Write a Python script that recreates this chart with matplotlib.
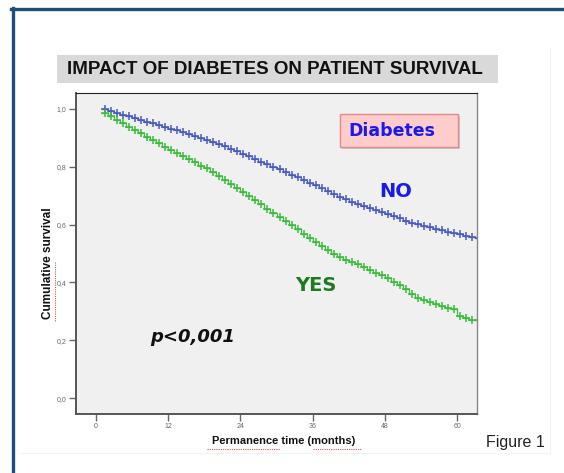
import matplotlib
matplotlib.use("Agg")
import matplotlib.pyplot as plt
import numpy as np
from matplotlib.patches import Rectangle, FancyBboxPatch
from matplotlib.lines import Line2D

# Kaplan-Meier estimates by month of follow-up
months = np.arange(1, 64)
surv_no = [0.998, 0.992, 0.986, 0.980, 0.974, 0.968, 0.962, 0.956, 0.950, 0.944,
           0.938, 0.932, 0.926, 0.920, 0.913, 0.907, 0.900, 0.893, 0.886, 0.879,
           0.871, 0.862, 0.853, 0.845, 0.836, 0.827, 0.818, 0.809, 0.800, 0.791,
           0.782, 0.773, 0.764, 0.754, 0.745, 0.736, 0.726, 0.716, 0.706, 0.696,
           0.687, 0.679, 0.672, 0.665, 0.658, 0.651, 0.644, 0.637, 0.630, 0.622,
           0.614, 0.607, 0.601, 0.595, 0.590, 0.585, 0.580, 0.576, 0.571, 0.566,
           0.562, 0.558, 0.555]
surv_yes = [0.986, 0.975, 0.963, 0.951, 0.939, 0.927, 0.916, 0.904, 0.893, 0.881,
            0.869, 0.858, 0.847, 0.836, 0.826, 0.815, 0.804, 0.794, 0.783, 0.768,
            0.754, 0.740, 0.727, 0.713, 0.699, 0.684, 0.670, 0.655, 0.640, 0.626,
            0.611, 0.597, 0.583, 0.569, 0.555, 0.541, 0.527, 0.513, 0.499, 0.487,
            0.479, 0.471, 0.462, 0.452, 0.442, 0.431, 0.424, 0.416, 0.403, 0.390,
            0.376, 0.361, 0.347, 0.338, 0.331, 0.325, 0.318, 0.312, 0.309, 0.283,
            0.276, 0.271, 0.270]

x_ticks = [0, 12, 24, 36, 48, 60]
y_ticks = [0.0, 0.2, 0.4, 0.6, 0.8, 1.0]
y_tick_labels = ["0,0", "0,2", "0,4", "0,6", "0,8", "1,0"]

W, H = 564, 473


def fx(px):
    return px / W


def fy(py):
    return 1 - py / H


plt.rcParams["font.family"] = ["Liberation Sans", "DejaVu Sans"]

fig = plt.figure(figsize=(W / 100, H / 100), dpi=100)
fig.patch.set_facecolor("white")

# outer frame of the slide
fig.add_artist(Line2D([fx(11), fx(W)], [fy(9.5), fy(9.5)], color="#1f4e79", lw=2.4))
fig.add_artist(Line2D([fx(12.5), fx(12.5)], [fy(8.5), fy(H)], color="#1f4e79", lw=2.4))
fig.add_artist(Line2D([fx(550), fx(550)], [fy(48), fy(453)], color="#f3f3f3", lw=0.8))
fig.add_artist(Line2D([fx(20), fx(550)], [fy(453), fy(453)], color="#f3f3f3", lw=0.8))

# title bar
fig.add_artist(Rectangle((fx(57), fy(83.5)), fx(498) - fx(57), fy(55) - fy(83.5),
                         fc="#d9d9d9", ec="none"))
fig.text(fx(275), fy(70), "IMPACT OF DIABETES ON PATIENT SURVIVAL",
         ha="center", va="center", fontsize=13.5, fontweight="bold", color="#111111")

ax = fig.add_axes([fx(75.7), fy(414), fx(477.3) - fx(75.7), fy(92.7) - fy(414)])
ax.set_facecolor("#f0f0f0")

blue = "#4a5cbf"
green = "#3dbb3d"
for surv, col in [(surv_no, blue), (surv_yes, green)]:
    t = np.append(months, 64)
    s = np.append(surv, surv[-1])
    ax.plot(t, s, drawstyle="steps-post", color=col, lw=0.9)
    # censored observations on each step
    ax.plot(months + 0.5, surv, ls="none", marker="+", ms=5.5, mew=1.1, color=col)

ax.set_xlim(-3.3, 63.3)
ax.set_ylim(-0.055, 1.056)
ax.set_xticks(x_ticks)
ax.set_xticklabels([str(v) for v in x_ticks])
ax.set_yticks(y_ticks)
ax.set_yticklabels(y_tick_labels)
ax.tick_params(axis="both", labelsize=5, colors="#666666", length=5, width=1.0,
               direction="out", pad=1.5)
for side in ["left", "bottom"]:
    ax.spines[side].set_color("#555555")
    ax.spines[side].set_linewidth(1.4)
ax.spines["top"].set_color("#222222")
ax.spines["top"].set_linewidth(0.8)
ax.spines["right"].set_color("#888888")
ax.spines["right"].set_linewidth(1.0)

# axis titles
fig.text(fx(48), fy(263), "Cumulative survival", rotation=90, ha="center",
         va="center", fontsize=8.5, fontweight="bold", color="#111111")
fig.text(fx(284), fy(441), "Permanence time (months)", ha="center", va="center",
         fontsize=8, fontweight="bold", color="#111111")
fig.text(fx(515), fy(443), "Figure 1", ha="center", va="center", fontsize=11.5,
         color="#222222")

# spell-check marks under the axis titles
red = "#e05050"
fig.add_artist(Line2D([fx(54.5), fx(54.5)], [fy(262), fy(322)], color=red, lw=0.8, ls=(0, (1, 1))))
fig.add_artist(Line2D([fx(207), fx(280)], [fy(448.5), fy(448.5)], color=red, lw=0.8, ls=(0, (1, 1))))
fig.add_artist(Line2D([fx(313), fx(362)], [fy(448.5), fy(448.5)], color=red, lw=0.8, ls=(0, (1, 1))))

# group labels
box = FancyBboxPatch((fx(340), fy(147)), fx(458) - fx(340), fy(114) - fy(147),
                     boxstyle="square,pad=0", fc="#ffcccc", ec="#e08a8a", lw=1.0,
                     transform=fig.transFigure)
shadow = FancyBboxPatch((fx(342), fy(149)), fx(458) - fx(340), fy(114) - fy(147),
                        boxstyle="square,pad=0", fc="#c8c8c8", ec="none",
                        transform=fig.transFigure)
fig.add_artist(shadow)
fig.add_artist(box)
fig.text(fx(392), fy(130.5), "Diabetes", ha="center", va="center", fontsize=12.5,
         fontweight="bold", color="#1a1aee", family="DejaVu Sans")
fig.text(fx(396), fy(191), "NO", ha="center", va="center", fontsize=14,
         fontweight="bold", color="#1a1aee", family="DejaVu Sans")
fig.text(fx(316), fy(285), "YES", ha="center", va="center", fontsize=14,
         fontweight="bold", color="#1e7a1e", family="DejaVu Sans")
fig.text(fx(193), fy(337), "p<0,001", ha="center", va="center", fontsize=13,
         fontweight="bold", style="italic", color="#111111", family="DejaVu Sans")

fig.savefig("out.png", dpi=100)
